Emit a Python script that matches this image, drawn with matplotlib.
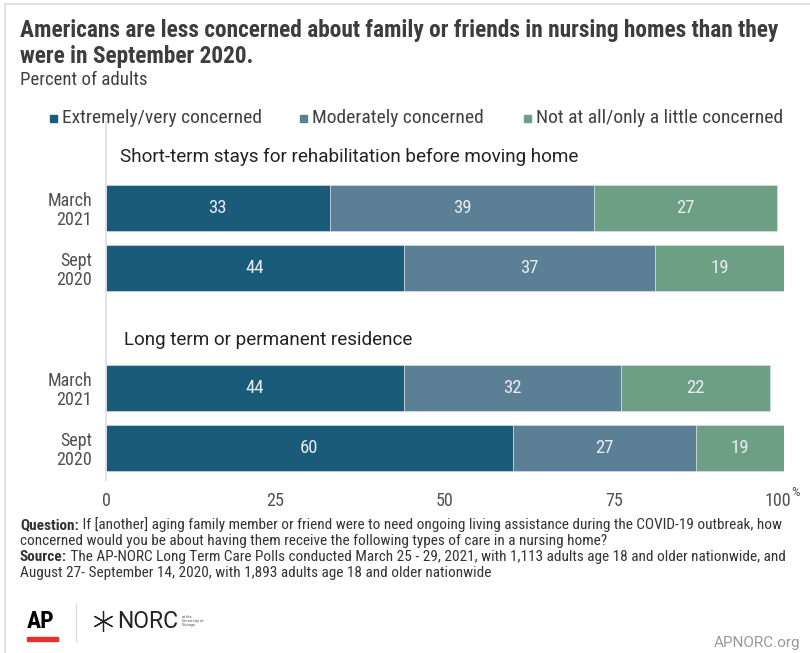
import matplotlib.pyplot as plt
from matplotlib.lines import Line2D
from matplotlib.patches import Rectangle
from matplotlib.transforms import ScaledTranslation

# survey shares, percent of adults
groups = ['Short-term stays for rehabilitation before moving home',
          'Long term or permanent residence']
periods = ['March\n2021', 'Sept\n2020']
series = ['Extremely/very concerned', 'Moderately concerned',
          'Not at all/only a little concerned']
extremely = [33, 44, 44, 60]
moderately = [39, 37, 32, 27]
not_at_all = [27, 19, 22, 19]

colors = ['#1a5b7a', '#5b7f95', '#6d9f84']
cond = ['Roboto Condensed', 'Fira Sans Condensed', 'DejaVu Sans']
W, H = 810, 653


def fx(x):
    return x / W


def fy(y):
    return 1 - y / H


fig = plt.figure(figsize=(8.1, 6.53), dpi=100)
fig.patch.set_facecolor('white')

# card frame
fig.add_artist(Line2D([fx(5), fx(5)], [fy(4), fy(653)], color='#dddddd', lw=1.2))
fig.add_artist(Line2D([fx(5), fx(810)], [fy(4), fy(4)], color='#dddddd', lw=1.2))

fig.text(fx(20), fy(31), 'Americans are less concerned about family or friends in nursing homes than they',
         family=cond, fontsize=16.8, weight='bold', color='#3d3d3d', va='center')
fig.text(fx(20), fy(57), 'were in September 2020.',
         family=cond, fontsize=16.8, weight='bold', color='#3d3d3d', va='center')
fig.text(fx(20), fy(80), 'Percent of adults', family=cond, fontsize=13.6, color='#404040', va='center')

# legend
leg_x = [50, 300, 524]
for lx, name, c in zip(leg_x, series, colors):
    fig.add_artist(Rectangle((fx(lx), fy(122)), fx(7), 7 / H, color=c))
    fig.text(fx(lx + 12), fy(118), name, family=cond, fontsize=14, color='#404040', va='center')

# bar area
ax = fig.add_axes([fx(106), fy(480), fx(784 - 106), (480 - 122) / H])
ypos = [0, 1, 3, 4]
h = 46 / 60
left = [0, 0, 0, 0]
for vals, c in zip([extremely, moderately, not_at_all], colors):
    ax.barh(ypos, vals, left=left, height=h, color=c, edgecolor='#dfe6ea', linewidth=0.4)
    for y, l, v in zip(ypos, left, vals):
        end = min(l + v, 100)
        ax.text((l + end) / 2, y, str(v), ha='center', va='center',
                color='#e8ecef', fontsize=13.5, family=cond)
    left = [l + v for l, v in zip(left, vals)]

ax.set_xlim(0, 100)
ax.set_ylim(4 + 32 / 60, -86 / 60)
for s in ['top', 'right', 'bottom']:
    ax.spines[s].set_visible(False)
ax.spines['left'].set_color('#dddddd')
ax.spines['left'].set_linewidth(1.2)

ax.set_yticks(ypos)
ax.set_yticklabels(periods * 2, family=cond, fontsize=13, color='#505050', linespacing=1.05)
ax.tick_params(axis='y', length=0, pad=10)
ax.set_xticks([0, 25, 50, 75, 100])
ax.set_xticklabels(['0', '25', '50', '75', '100'], family=cond, fontsize=13, color='#505050')
ax.tick_params(axis='x', length=0, pad=9)
last = ax.get_xticklabels()[-1]
last.set_transform(last.get_transform() + ScaledTranslation(-0.06, 0, fig.dpi_scale_trans))
fig.text(fx(791), fy(493), '%', family=cond, fontsize=9.5, color='#505050', va='center', ha='left')

ax.text(2.1, -0.85, groups[0], family='Roboto', fontsize=13.6, color='#222222', va='center')
ax.text(2.6, 2.2, groups[1], family='Roboto', fontsize=13.6, color='#222222', va='center')

# footnotes
renderer = fig.canvas.get_renderer()
notes = [
    ('Question:', ' If [another] aging family member or friend were to need ongoing living assistance during the COVID-19 outbreak, how', 525),
    ('', 'concerned would you be about having them receive the following types of care in a nursing home?', 541),
    ('Source:', ' The AP-NORC Long Term Care Polls conducted March 25 - 29, 2021, with 1,113 adults age 18 and older nationwide, and', 557),
    ('', 'August 27- September 14, 2020, with 1,893 adults age 18 and older nationwide', 573),
]
for bold, rest, y in notes:
    x0 = fx(20)
    if bold:
        t = fig.text(x0, fy(y), bold, family=cond, fontsize=11, weight='bold', color='#333333', va='center')
        bb = t.get_window_extent(renderer)
        x0 = bb.x1 / fig.bbox.width
    fig.text(x0, fy(y), rest, family=cond, fontsize=11, color='#333333', va='center')

# logos
fig.text(fx(27), fy(621), 'AP', family=cond, fontsize=17, weight='bold', color='black', va='center')
fig.add_artist(Rectangle((fx(27), fy(641)), fx(31), 4 / H, color='#e8312f'))
fig.add_artist(Line2D([fx(76), fx(76)], [fy(604), fy(641)], color='#dddddd', lw=1))
fig.add_artist(Line2D([fx(103)], [fy(621)], marker=(6, 2, 0), markersize=15,
                      color='#222222', markeredgewidth=0.9))
fig.text(fx(117), fy(621), 'NORC', family='Roboto', fontsize=16.5, color='#222222', va='center')
fig.text(fx(182), fy(621), 'at the\nUniversity of\nChicago', family=cond, fontsize=3.2,
         color='#555555', va='center', linespacing=1.1)
fig.text(fx(800), fy(643), 'APNORC.org', family='Roboto', fontsize=11, color='#999999',
         va='center', ha='right')

fig.savefig('out.png', dpi=100)
